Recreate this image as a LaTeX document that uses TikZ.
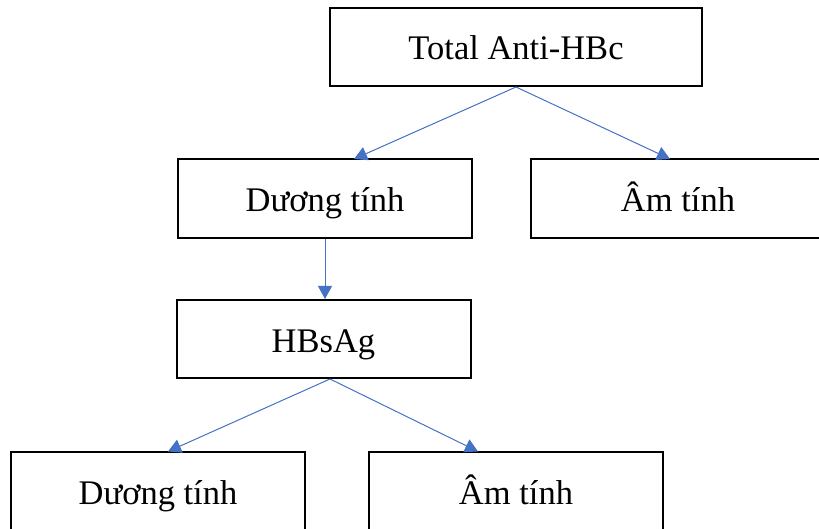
\documentclass[tikz,border=0pt]{standalone}
\usepackage{fontspec}
\setmainfont{Liberation Serif}
\usetikzlibrary{arrows.meta}
\definecolor{arrowblue}{RGB}{68,114,196}
\tikzset{
  testbox/.style={draw,line width=2pt,minimum width=294pt,minimum height=79pt,
    inner sep=0pt,text height=30pt,text depth=4pt,font=\fontsize{34.5}{40}\selectfont},
  flow/.style={arrowblue,line width=1pt,-{Triangle[length=13pt,width=14pt]}}
}
\begin{document}
\begin{tikzpicture}[x=1pt,y=-1pt]
   \useasboundingbox (0,0) rectangle (819,529);
   % tests
   \node[testbox,minimum width=372pt,minimum height=78pt] (total) at (516,47) {Total Anti-HBc};
   \node[testbox] (pos) at (325,198.5) {Dương tính};
   \node[testbox] (neg) at (678,198.5) {Âm tính};
   \node[testbox,minimum height=78pt] (hbs) at (323.5,339) {HBsAg};
   \node[testbox] (hbspos) at (158,491) {Dương tính};
   \node[testbox] (hbsneg) at (516,491) {Âm tính};
  %
   \draw[flow] (total.south) -- ([xshift=29pt,yshift=-1pt]pos.north);
   \draw[flow] (total.south) -- ([xshift=-8pt,yshift=-1pt]neg.north);
   \draw[flow] (pos.south) -- (pos.south |- hbs.north);
   \draw[flow] ([xshift=6.5pt]hbs.south) -- ([xshift=10pt,yshift=-1pt]hbspos.north);
   \draw[flow] ([xshift=6.5pt]hbs.south) -- ([xshift=-38pt,yshift=-1pt]hbsneg.north);
\end{tikzpicture}
\end{document}
